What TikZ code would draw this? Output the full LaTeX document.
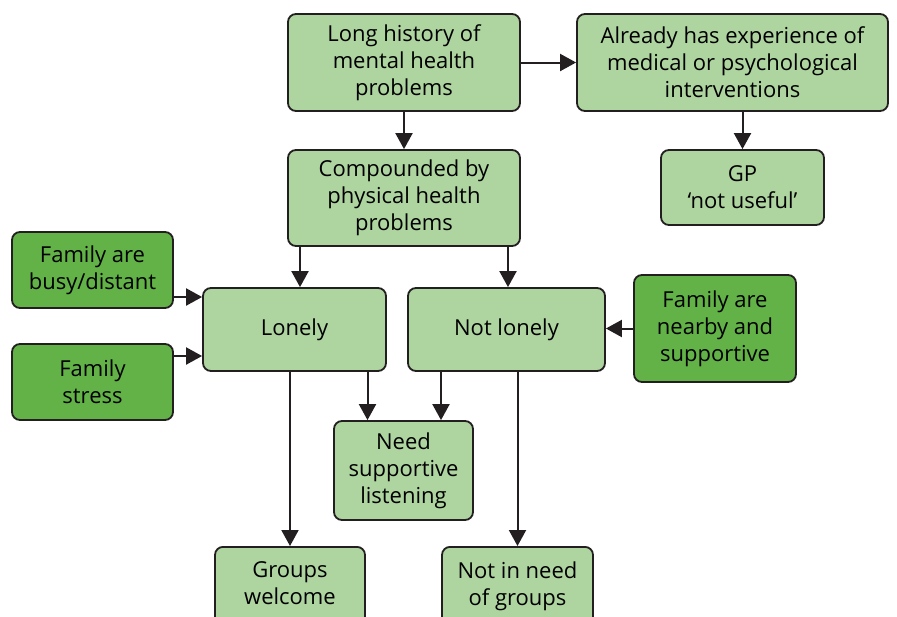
\documentclass[tikz,border=0pt]{standalone}
\usepackage{fontspec}
\setmainfont{Open Sans}
\usetikzlibrary{arrows.meta}
\definecolor{lightgreen}{RGB}{174,212,160}
\definecolor{darkgreen}{RGB}{98,178,72}
\definecolor{edge}{RGB}{35,31,32}
\tikzset{
  box/.style={draw=edge,line width=1.8pt,rounded corners=8pt,fill=lightgreen,align=center,
    inner sep=0pt,font=\fontsize{22}{27}\selectfont},
  famb/.style={box,fill=darkgreen},
  arr/.style={draw=edge,line width=2pt,-{Triangle[length=16pt,width=17pt]}}
}
\begin{document}
\begin{tikzpicture}[x=1pt,y=-1pt]
\useasboundingbox (0,0) rectangle (897,616);
\clip (0,0) rectangle (897,616);
\node[box,minimum width=232pt,minimum height=97pt] (hist) at (404,62.5) {Long history of\\mental health\\problems};
\node[box,minimum width=311pt,minimum height=97pt] (exp) at (732.5,62.5) {Already has experience of\\medical or psychological\\interventions};
\node[box,minimum width=163pt,minimum height=75pt] (gp) at (742.5,187.5) {GP\\‘not useful’};
\node[box,minimum width=232pt,minimum height=96pt] (comp) at (404,198) {Compounded by\\physical health\\problems};
\node[famb,minimum width=161pt,minimum height=76pt] (busy) at (92.5,270) {Family are\\busy/distant};
\node[famb,minimum width=161pt,minimum height=76pt] (stress) at (92.5,382) {Family\\stress};
\node[box,minimum width=183pt,minimum height=83pt] (lonely) at (294.5,329.5) {Lonely};
\node[box,minimum width=197pt,minimum height=83pt] (notlonely) at (506.5,329.5) {Not lonely};
\node[famb,minimum width=162pt,minimum height=107pt] (nearby) at (715,328.5) {Family are\\nearby and\\supportive};
\node[box,minimum width=139pt,minimum height=99pt] (listen) at (403.5,470.5) {Need\\supportive\\listening};
\node[box,minimum width=150pt,minimum height=108pt,anchor=north] (groups) at (290,546) {Groups\\welcome\\\strut};
\node[box,minimum width=151pt,minimum height=108pt,anchor=north] (noneed) at (517.5,546) {Not in need\\of groups\\\strut};
% connectors
\draw[arr] (hist.east) -- (exp.west);
\draw[arr] (hist.south) -- (comp.north);
\draw[arr] (exp.south -| gp.north) -- (gp.north);
\draw[arr] ([xshift=5.5pt]lonely.north |- comp.south) -- ([xshift=5.5pt]lonely.north);
\draw[arr] ([xshift=1.5pt]notlonely.north |- comp.south) -- ([xshift=1.5pt]notlonely.north);
\draw[arr] ([yshift=-27pt]busy.east) -- ([yshift=-27pt]busy.east -| lonely.west);
\draw[arr] ([yshift=26pt]stress.east) -- ([yshift=26pt]stress.east -| lonely.west);
\draw[arr] (nearby.west) -- (nearby.west -| notlonely.east);
\draw[arr] ([xshift=-36pt]listen.north |- lonely.south) -- ([xshift=-36pt]listen.north);
\draw[arr] ([xshift=37.5pt]listen.north |- notlonely.south) -- ([xshift=37.5pt]listen.north);
\draw[arr] (groups.north |- lonely.south) -- (groups.north);
\draw[arr] (noneed.north |- notlonely.south) -- (noneed.north);
\end{tikzpicture}
\end{document}
